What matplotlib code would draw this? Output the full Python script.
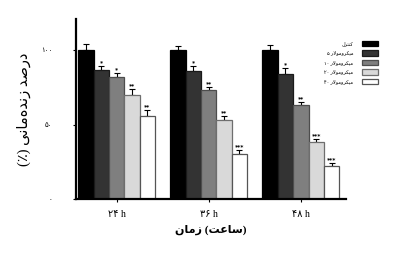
import matplotlib
matplotlib.use("Agg")
import matplotlib.pyplot as plt
import numpy as np

# contextual forms: isolated, final, initial, medial
FORMS = {
    'ا': '\uFE8D\uFE8E', 'د': '\uFEA9\uFEAA', 'ر': '\uFEAD\uFEAE',
    'ز': '\uFEAF\uFEB0', 'و': '\uFEED\uFEEE',
    'ص': '\uFEB9\uFEBA\uFEBB\uFEBC', 'ن': '\uFEE5\uFEE6\uFEE7\uFEE8',
    'ه': '\uFEE9\uFEEA\uFEEB\uFEEC', 'م': '\uFEE1\uFEE2\uFEE3\uFEE4',
    'ی': '\uFBFC\uFBFD\uFBFE\uFBFF', 'ک': '\uFB8E\uFB8F\uFB90\uFB91',
    'ت': '\uFE95\uFE96\uFE97\uFE98', 'ل': '\uFEDD\uFEDE\uFEDF\uFEE0',
    'س': '\uFEB1\uFEB2\uFEB3\uFEB4', 'ع': '\uFEC9\uFECA\uFECB\uFECC',
}


def fa(word):
    # shape a persian word and put it in visual order
    out = ''
    for i, c in enumerate(word):
        if c not in FORMS:
            out += c
            continue
        prev = word[i - 1] if i > 0 else ''
        nxt = word[i + 1] if i + 1 < len(word) else ''
        jp = prev in FORMS and len(FORMS[prev]) == 4
        jn = len(FORMS[c]) == 4 and nxt in FORMS
        out += FORMS[c][3 if jp and jn else 1 if jp else 2 if jn else 0]
    out = out.replace('\uFEDF\uFE8E', '\uFEFB').replace('\uFEE0\uFE8E', '\uFEFC')
    return out.replace('\u200c', '')[::-1]


groups = ['۲۴ h', '۳۶ h', '۴۸ h']
labels = [fa('کنترل'), '۵ ' + fa('میکرومولار'), '۱۰ ' + fa('میکرومولار'),
          '۲۰ ' + fa('میکرومولار'), '۴۰ ' + fa('میکرومولار')]
means = [[100, 100, 100],
         [87, 86, 84],
         [82, 73, 63],
         [70, 53, 38],
         [56, 30, 22]]
errs = [[4, 3, 3.5],
        [2.5, 3.5, 4],
        [2.7, 2.3, 2],
        [4, 3, 2],
        [4, 3, 2.5]]
stars = [['', '', ''],
         ['*', '*', '*'],
         ['*', '**', '**'],
         ['**', '**', '***'],
         ['**', '***', '***']]
colors = ['#000000', '#333333', '#7f7f7f', '#d9d9d9', '#ffffff']
edges = ['#000000', '#1a1a1a', '#4d4d4d', '#6e6e6e', '#555555']

FONT = ['Liberation Serif', 'DejaVu Sans']
plt.rcParams['font.family'] = FONT

fig = plt.figure(figsize=(4.16, 2.56), dpi=100)
ax = fig.add_axes([75.5 / 416, 1 - 199 / 256, (346 - 75.5) / 416, (199 - 19) / 256])

x = np.arange(len(groups))
w = 1 / 6
for i in range(5):
    pos = x + (i - 2) * w
    ax.bar(pos, means[i], w, color=colors[i], edgecolor=edges[i], linewidth=0.9,
           label=labels[i], zorder=2)
    ax.errorbar(pos, means[i], yerr=[np.zeros(3), errs[i]], fmt='none',
                ecolor='black', elinewidth=0.8, capsize=2.3, capthick=0.8, zorder=1)
    for p, m, e, s in zip(pos, means[i], errs[i], stars[i]):
        if s:
            ax.text(p, m + e + 0.6, s, ha='center', va='bottom', fontsize=4.3,
                    fontweight='bold', family='DejaVu Sans')

ax.set_xlim(-0.446, 2.49)
ax.set_ylim(0, 121)
ax.set_yticks([0, 50, 100])
ax.set_yticklabels(['۰', '۵۰', '۱۰۰'], fontsize=5)
ax.set_xticks(x)
ax.set_xticklabels(groups, fontsize=7)
ax.tick_params(axis='y', length=2, width=0.8, pad=15)
ax.tick_params(axis='x', length=2, width=0.8, pad=6)
for sp in ['top', 'right']:
    ax.spines[sp].set_visible(False)
for sp in ['left', 'bottom']:
    ax.spines[sp].set_linewidth(1.6)

ax.set_ylabel('(٪) ' + fa('زنده\u200cمانی') + ' ' + fa('درصد'), fontsize=10.5, labelpad=7)
ax.set_xlabel(fa('زمان') + ' (' + fa('ساعت') + ')', fontsize=8, fontweight='bold', labelpad=4)

ax.legend(loc='upper right', bbox_to_anchor=(380 / 416, 1 - 38 / 256),
          bbox_transform=fig.transFigure, frameon=False, markerfirst=False,
          fontsize=3.6, handlelength=3.2, handleheight=1.4, labelspacing=0.75,
          handletextpad=1.6, borderpad=0)

fig.savefig('out.png', dpi=100)
